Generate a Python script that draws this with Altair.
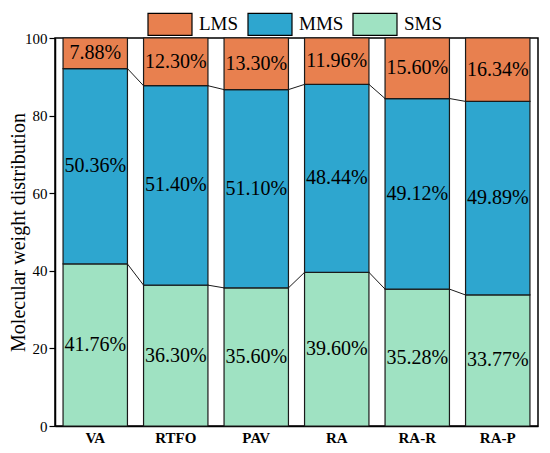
import altair as alt
import pandas as pd

categories = ["VA", "RTFO", "PAV", "RA", "RA-R", "RA-P"]
sms = [41.76, 36.30, 35.60, 39.60, 35.28, 33.77]
mms = [50.36, 51.40, 51.10, 48.44, 49.12, 49.89]
lms = [7.88, 12.30, 13.30, 11.96, 15.60, 16.34]
series = ["LMS", "MMS", "SMS"]
colors = ["#e8804f", "#2ea6cf", "#9fe2c2"]
stack_rank = {"SMS": 0, "MMS": 1, "LMS": 2}
y_ticks = [0, 10, 20, 30, 40, 50, 60, 70, 80, 90, 100]

rows = []
for i, c in enumerate(categories):
    for s, vals in (("SMS", sms), ("MMS", mms), ("LMS", lms)):
        rows.append({"cat": c, "idx": i, "series": s, "ord": stack_rank[s], "value": vals[i]})
df = pd.DataFrame(rows)

FONT = "Liberation Serif"

base = alt.Chart(df).transform_stack(
    stack="value", groupby=["cat"], as_=["y0", "y1"],
    sort=[alt.SortField("ord", order="ascending")]
).transform_calculate(
    mid="(datum.y0 + datum.y1) / 2",
    label="format(datum.value, '.2f') + '%'"
)

xscale = alt.Scale(paddingInner=0.2, paddingOuter=0.1)

bars = base.mark_bar(stroke="#1a1a1a", strokeWidth=1.2).encode(
    x=alt.X("cat:N", sort=categories, scale=xscale,
            axis=alt.Axis(title=None, labelAngle=0, ticks=False, labelFont=FONT,
                          labelFontSize=15, labelFontWeight="bold", labelColor="black",
                          labelPadding=4, domainColor="black", domainWidth=1.5)),
    y=alt.Y("y0:Q", scale=alt.Scale(domain=[0, 100], nice=False),
            axis=alt.Axis(title="Molecular weight distribution", values=y_ticks,
                          labelExpr="datum.value % 20 == 0 ? datum.label : ''",
                          grid=False, tickSize=6, tickColor="black", tickWidth=1.2,
                          domainColor="black", domainWidth=1.5,
                          labelFont=FONT, labelFontSize=15, labelColor="black", labelPadding=2,
                          titleFont=FONT, titleFontSize=20, titleFontWeight="normal",
                          titleColor="black", titleX=-27)),
    y2="y1:Q",
    color=alt.Color("series:N", scale=alt.Scale(domain=series, range=colors),
                    legend=alt.Legend(title=None, orient="none", legendX=92, legendY=-26,
                                      direction="horizontal",
                                      symbolType="M-1,-1H3V1H-1Z", symbolSize=484,
                                      symbolStrokeColor="black", symbolStrokeWidth=1.2,
                                      symbolOpacity=1,
                                      labelFont=FONT, labelFontSize=19, labelColor="black",
                                      labelOffset=28, columnPadding=6)),
)

links = base.transform_window(
    ny="lead(y1)", ncat="lead(cat)", groupby=["series"],
    sort=[alt.SortField("idx", order="ascending")]
).transform_filter(
    "datum.series != 'LMS' && datum.ncat != null"
).mark_rule(color="#1a1a1a", strokeWidth=1).encode(
    x=alt.X("cat:N", sort=categories, bandPosition=1),
    x2=alt.X2("ncat:N", bandPosition=0),
    y="y1:Q",
    y2="ny:Q",
)

labels = base.mark_text(font=FONT, fontSize=20, color="black").encode(
    x=alt.X("cat:N", sort=categories),
    y="mid:Q",
    text="label:N",
)

chart = alt.layer(bars, links, labels).properties(
    width=483, height=388,
    autosize=alt.AutoSizeParams(type="none"),
    padding={"left": 47, "top": 30, "right": 4, "bottom": 19}
).configure_view(stroke="black", strokeWidth=1.5).configure_text(font=FONT)

chart.save("out.html", embed_options={"renderer": "svg", "actions": False})
